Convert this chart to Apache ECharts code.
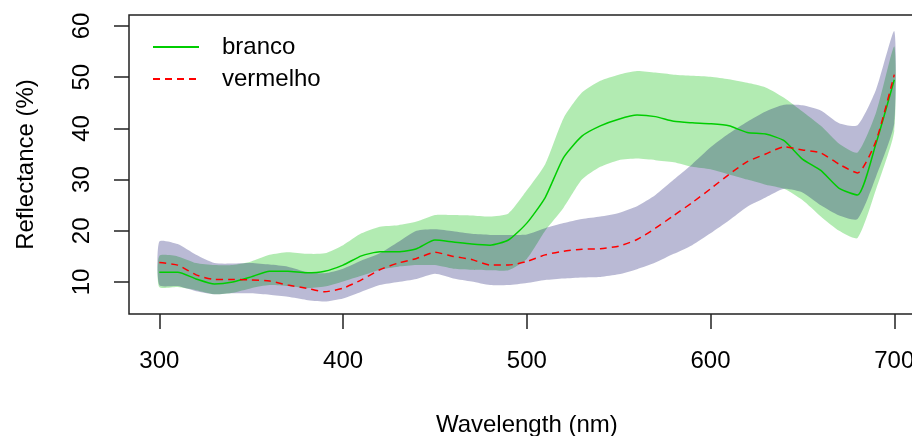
<!DOCTYPE html>
<html>
<head>
<meta charset="utf-8">
<script src="https://cdn.jsdelivr.net/npm/echarts@6/dist/echarts.min.js"></script>
<style>
  html, body { margin: 0; padding: 0; background: #fff; overflow: hidden; }
  #chart { width: 940px; height: 436px; }
</style>
</head>
<body>
<div id="chart"></div>
<script>
// Wavelengths (nm)
const wavelengths = [300,310,320,330,340,350,360,370,380,390,400,410,420,430,440,450,460,470,480,490,500,510,520,530,540,550,560,570,580,590,600,610,620,630,640,650,660,670,680,690,700];

// branco (mean and band)
const brancoMean  = [11.9,11.9,10.6,9.6,10.0,11.0,12.1,12.1,11.8,12.1,13.3,15.1,15.9,15.9,16.5,18.2,17.8,17.4,17.2,18.2,21.5,26.5,34.3,38.5,40.5,41.8,42.6,42.3,41.4,41.1,40.9,40.5,39.2,38.9,37.6,34.0,31.8,28.3,27.0,37.0,49.5];
const brancoUpper = [15.1,15.0,13.7,13.3,13.3,14.0,15.3,15.8,15.5,15.6,17.2,19.5,20.8,21.1,21.8,23.1,23.1,23.0,22.8,23.4,27.9,33.0,42.0,47.0,49.3,50.5,51.2,50.9,50.5,50.3,50.1,49.6,48.9,48.0,46.0,43.3,40.5,37.0,35.3,43.0,56.0];
const brancoLower = [9.0,9.0,8.4,7.6,7.9,8.8,9.4,9.2,8.8,9.1,10.1,11.2,12.4,13.0,13.3,13.3,12.6,12.4,12.3,12.3,14.5,20.0,24.5,30.0,32.5,33.8,34.1,33.8,33.4,32.5,32.0,31.0,30.0,29.0,28.2,26.0,22.8,20.0,18.6,28.0,39.5];

// vermelho (mean and band)
const vermelhoMean  = [13.8,13.3,11.4,10.5,10.5,10.4,10.2,9.4,8.8,8.1,8.8,10.4,12.4,13.7,14.6,15.8,15.0,14.4,13.3,13.3,14.0,15.3,16.0,16.4,16.5,17.0,18.3,20.5,23.0,25.5,28.2,31.0,33.5,35.0,36.4,35.8,35.2,33.0,31.3,37.5,50.5];
const vermelhoUpper = [17.9,17.4,15.3,13.7,13.6,13.7,13.4,13.0,12.0,11.7,12.6,14.2,15.6,17.8,20.0,20.3,19.9,19.4,19.2,19.2,19.3,20.5,21.5,22.3,22.8,23.5,24.8,27.0,30.0,33.0,36.3,39.0,41.3,43.3,44.6,44.5,43.5,41.0,40.6,47.5,59.0];
const vermelhoLower = [9.4,9.2,8.2,7.6,7.8,7.8,7.5,7.1,6.5,6.2,6.8,8.1,9.4,10.0,10.6,11.6,10.7,10.1,9.4,9.4,9.8,10.4,10.7,10.9,11.0,11.5,12.5,13.8,15.5,17.2,19.5,22.0,24.7,26.5,28.2,27.5,25.0,23.0,22.3,30.5,41.0];

// Tick labels
const xTicks = [300,400,500,600,700];
const yTicks = [10,20,30,40,50,60];

const FONT = '"Liberation Sans", Arial, Helvetica, sans-serif';

function band(name, lower, upper, fill, z) {
  return {
    type: 'custom',
    name: name,
    silent: true,
    z: z,
    clip: true,
    data: wavelengths.map((w, i) => [w, lower[i], upper[i]]),
    encode: { x: 0, y: [1, 2] },
    renderItem: function (params, api) {
      if (params.dataIndex !== 0) return null;
      const pts = [];
      for (let i = 0; i < wavelengths.length; i++) pts.push(api.coord([wavelengths[i], upper[i]]));
      for (let i = wavelengths.length - 1; i >= 0; i--) pts.push(api.coord([wavelengths[i], lower[i]]));
      return { type: 'polygon', shape: { points: pts, smooth: 0.2 }, style: { fill: fill, stroke: null } };
    }
  };
}

const chart = echarts.init(document.getElementById('chart'), null, { renderer: 'canvas' });
chart.setOption({
  animation: false,
  backgroundColor: '#ffffff',
  textStyle: { fontFamily: FONT },
  grid: { left: 129, top: 15, width: 795.6, height: 299, outerBoundsMode: 'none', show: true, borderColor: '#222', borderWidth: 1.5, backgroundColor: 'transparent', containLabel: false },
  legend: {
    data: ['branco', 'vermelho'],
    orient: 'vertical',
    left: 152, top: 35,
    padding: 0,
    itemWidth: 46, itemHeight: 14, itemGap: 8,
    itemStyle: { opacity: 0 },
    textStyle: { fontSize: 24, color: '#000', fontFamily: FONT, padding: [0, 0, 0, 18] }
  },
  xAxis: {
    type: 'value', min: 283.5, max: 716.5,
    name: 'Wavelength (nm)', nameLocation: 'middle', nameGap: 99,
    nameTextStyle: { fontSize: 24, color: '#000', fontFamily: FONT },
    axisLine: { show: false },
    axisTick: { show: true, length: 15, inside: false, customValues: xTicks, lineStyle: { color: '#222', width: 1.5 } },
    axisLabel: { show: true, customValues: xTicks, fontSize: 24, color: '#000', margin: 35, fontFamily: FONT },
    splitLine: { show: false }
  },
  yAxis: {
    type: 'value', min: 3.75, max: 62.15,
    name: 'Reflectance (%)', nameLocation: 'middle', nameGap: 91, nameRotate: 90,
    nameTextStyle: { fontSize: 24, color: '#000', fontFamily: FONT },
    axisLine: { show: false },
    axisTick: { show: true, length: 15, inside: false, customValues: yTicks, lineStyle: { color: '#222', width: 1.5 } },
    axisLabel: { show: true, customValues: yTicks, fontSize: 24, color: '#000', margin: 35, rotate: 90, fontFamily: FONT },
    splitLine: { show: false }
  },
  series: [
    band('branco band', brancoLower, brancoUpper, 'rgba(0,190,0,0.3)', 1),
    band('vermelho band', vermelhoLower, vermelhoUpper, 'rgba(0,0,100,0.27)', 2),
    {
      type: 'line', name: 'branco', z: 3,
      data: wavelengths.map((w, i) => [w, brancoMean[i]]),
      symbol: 'none', smooth: 0.2,
      lineStyle: { color: 'rgb(0,205,0)', width: 1.5, type: 'solid' },
      itemStyle: { color: 'rgb(0,205,0)' }
    },
    {
      type: 'line', name: 'vermelho', z: 4,
      data: wavelengths.map((w, i) => [w, vermelhoMean[i]]),
      symbol: 'none', smooth: 0.2,
      lineStyle: { color: '#ff0000', width: 1.5, type: [7, 5] },
      itemStyle: { color: '#ff0000' }
    }
  ]
});
</script>
</body>
</html>
